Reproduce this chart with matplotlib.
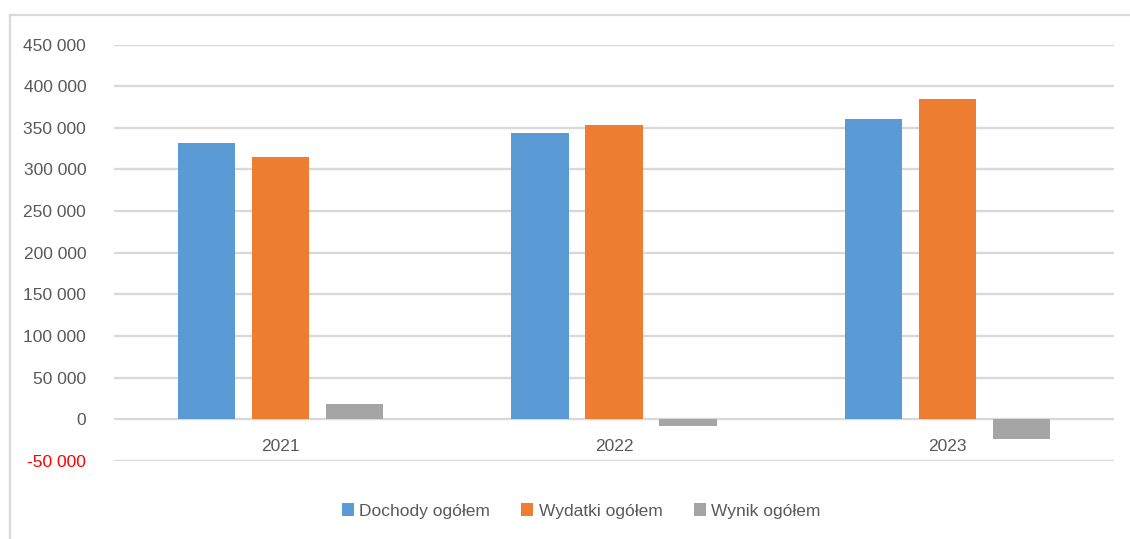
import matplotlib.pyplot as plt
from matplotlib.lines import Line2D
from matplotlib.ticker import FuncFormatter
import numpy as np

years = ['2021', '2022', '2023']
dochody = [332000, 344000, 361000]
wydatki = [315500, 353500, 384000]
wynik = [18500, -8000, -23000]
series_names = ['Dochody ogółem', 'Wydatki ogółem', 'Wynik ogółem']
colors = ['#5b9bd5', '#ed7d31', '#a5a5a5']

plt.rcParams['font.family'] = ['Liberation Sans', 'DejaVu Sans']
text_color = '#595959'
grid_color = '#d9d9d9'

fig = plt.figure(figsize=(11.3, 5.39), dpi=100)
ax = fig.add_axes([114 / 1130, 1 - 461 / 539, 1000 / 1130, (461 - 44.5) / 539])

x = np.arange(len(years))
width = 0.172
offset = 0.222
for i, (vals, name, col) in enumerate(zip([dochody, wydatki, wynik], series_names, colors)):
    ax.bar(x + (i - 1) * offset, vals, width, color=col, label=name, zorder=3)

ax.set_xlim(-0.5, 2.5)
ax.set_ylim(-50000, 450000)
ax.set_yticks(np.arange(-50000, 450001, 50000))
ax.yaxis.set_major_formatter(FuncFormatter(lambda v, p: f'{int(v):,}'.replace(',', ' ')))
ax.grid(axis='y', color=grid_color, linewidth=1.7, zorder=0)
ax.tick_params(axis='y', length=0, pad=20, labelsize=12.5, labelcolor=text_color)
for lbl in ax.get_yticklabels():
    if lbl.get_text().startswith('-'):
        lbl.set_color('#ff0000')

# category labels sit just under the zero line
ax.set_xticks([])
for xi, yr in zip(x, years):
    ax.annotate(yr, xy=(xi, 0), xytext=(0, -19.5), textcoords='offset points',
                ha='center', va='center', fontsize=12.5, color=text_color)

for s in ax.spines.values():
    s.set_visible(False)

# outer chart border (left and top only visible)
fig.add_artist(Line2D([10 / 1130, 10 / 1130], [0, 1 - 15 / 539],
                      transform=fig.transFigure, color=grid_color, lw=1.6))
fig.add_artist(Line2D([10 / 1130, 1], [1 - 15 / 539, 1 - 15 / 539],
                      transform=fig.transFigure, color=grid_color, lw=1.6))

fig.legend(loc='center', bbox_to_anchor=(581 / 1130, 1 - 511 / 539), ncol=3,
           frameon=False, fontsize=12.5, handlelength=0.7, handleheight=0.7,
           handletextpad=0.3, columnspacing=1.8, labelcolor=text_color)

fig.savefig('out.png', dpi=100)
